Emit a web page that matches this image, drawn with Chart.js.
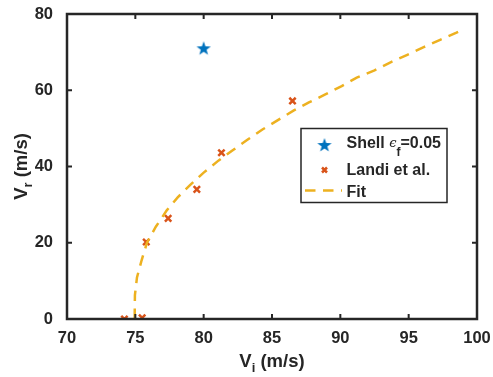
<!DOCTYPE html>
<html>
<head>
<meta charset="utf-8">
<script src="https://cdn.jsdelivr.net/npm/chart.js@4/dist/chart.umd.min.js"></script>
<style>
  body { margin: 0; background: #fff; }
  canvas { display: block; }
</style>
</head>
<body>
<canvas id="chart" width="493" height="377"></canvas>
<script>
// --- dados ---
const shellX = [80];
const shellY = [71];

const landiX = [74.2, 75.5, 75.8, 77.4, 79.5, 81.3, 86.5];
const landiY = [0, 0.3, 20.2, 26.4, 34.0, 43.6, 57.2];

const fitX = [74.95, 74.97, 75.12, 75.46, 75.85, 76.5, 77.3, 78.1, 79.0, 80.0, 81.1, 82.1, 83.2, 84.3, 85.4, 86.6, 87.7, 88.9, 90.1, 91.2, 92.5, 93.6, 94.9, 96.1, 97.3, 98.5, 98.85];
const fitY = [0, 6.3, 10.9, 15.4, 20.0, 24.2, 28.5, 31.9, 35.1, 38.4, 41.6, 44.2, 47.0, 49.7, 52.1, 54.7, 56.8, 58.9, 61.1, 63.3, 65.2, 67.2, 69.3, 71.3, 73.2, 75.1, 75.7];

const xTicks = [70, 75, 80, 85, 90, 95, 100];
const yTicks = [0, 20, 40, 60, 80];

const FONT = '"Liberation Sans", Arial, sans-serif';
const INK = '#262626';
const BLUE = '#0072BD';
const ORANGE = '#D95319';
const YELLOW = '#EDB120';

function toPoints(xs, ys) {
  return xs.map((x, i) => ({ x: x, y: ys[i] }));
}

// estrela cheia (pentagrama) como no MATLAB
function makeStar(size, color) {
  const c = document.createElement('canvas');
  c.width = size; c.height = size;
  const g = c.getContext('2d');
  const R = size / 2 - 0.5, r = R * 0.4, cx = size / 2, cy = size / 2 + 0.5;
  g.beginPath();
  for (let i = 0; i < 10; i++) {
    const rad = i % 2 === 0 ? R : r;
    const a = -Math.PI / 2 + i * Math.PI / 5;
    const px = cx + rad * Math.cos(a), py = cy + rad * Math.sin(a);
    if (i === 0) g.moveTo(px, py); else g.lineTo(px, py);
  }
  g.closePath();
  g.fillStyle = color;
  g.fill();
  return c;
}
const starImg = makeStar(16, BLUE);

// caixa, ticks internos, títulos e legenda
const matlabAxes = {
  id: 'matlabAxes',
  afterDraw(chart) {
    const ctx = chart.ctx;
    const xs = chart.scales.x, ys = chart.scales.y;
    // caixa pelos limites das escalas
    const a = {
      left: xs.getPixelForValue(xTicks[0]),
      right: xs.getPixelForValue(xTicks[xTicks.length - 1]),
      top: ys.getPixelForValue(yTicks[yTicks.length - 1]),
      bottom: ys.getPixelForValue(yTicks[0])
    };
    ctx.save();
    ctx.strokeStyle = INK;
    ctx.lineWidth = 2.5;
    ctx.strokeRect(a.left, a.top, a.right - a.left, a.bottom - a.top);

    ctx.lineWidth = 2;
    const tl = 5;
    ctx.beginPath();
    xTicks.forEach(v => {
      const px = xs.getPixelForValue(v);
      ctx.moveTo(px, a.bottom); ctx.lineTo(px, a.bottom - tl);
      ctx.moveTo(px, a.top); ctx.lineTo(px, a.top + tl);
    });
    yTicks.forEach(v => {
      const py = ys.getPixelForValue(v);
      ctx.moveTo(a.left, py); ctx.lineTo(a.left + tl, py);
      ctx.moveTo(a.right, py); ctx.lineTo(a.right - tl, py);
    });
    ctx.stroke();

    // título do eixo x: V_i (m/s)
    ctx.fillStyle = INK;
    ctx.textBaseline = 'alphabetic';
    const big = 'bold 18.5px ' + FONT, small = 'bold 13px ' + FONT;
    ctx.font = big; const wV = ctx.measureText('V').width;
    ctx.font = small; const wi = ctx.measureText('i').width;
    ctx.font = big; const wU = ctx.measureText(' (m/s)').width;
    let x0 = (a.left + a.right) / 2 - (wV + wi + wU) / 2;
    const by = 366.5;
    ctx.textAlign = 'left';
    ctx.font = big; ctx.fillText('V', x0, by);
    ctx.font = small; ctx.fillText('i', x0 + wV, by + 5);
    ctx.font = big; ctx.fillText(' (m/s)', x0 + wV + wi, by);

    // título do eixo y: V_r (m/s)
    ctx.save();
    ctx.translate(26.5, (a.top + a.bottom) / 2);
    ctx.rotate(-Math.PI / 2);
    ctx.font = big; const wV2 = ctx.measureText('V').width;
    ctx.font = small; const wr = ctx.measureText('r').width;
    ctx.font = big; const wU2 = ctx.measureText(' (m/s)').width;
    let y0 = -(wV2 + wr + wU2) / 2;
    ctx.font = big; ctx.fillText('V', y0, 0);
    ctx.font = small; ctx.fillText('r', y0 + wV2, 5);
    ctx.font = big; ctx.fillText(' (m/s)', y0 + wV2 + wr, 0);
    ctx.restore();

    // legenda
    const L = 301, T = 128.5, W = 146, H = 74;
    ctx.fillStyle = '#fff';
    ctx.fillRect(L, T, W, H);
    ctx.strokeStyle = INK;
    ctx.lineWidth = 1.5;
    ctx.strokeRect(L, T, W, H);

    ctx.drawImage(starImg, 324.5 - 8, 145 - 8);

    ctx.strokeStyle = ORANGE;
    ctx.lineWidth = 2.5;
    ctx.beginPath();
    ctx.moveTo(322, 167.5); ctx.lineTo(327, 172.5);
    ctx.moveTo(327, 167.5); ctx.lineTo(322, 172.5);
    ctx.stroke();

    ctx.strokeStyle = YELLOW;
    ctx.lineWidth = 2.5;
    ctx.setLineDash([10.5, 7.5]);
    ctx.beginPath();
    ctx.moveTo(305, 190.5); ctx.lineTo(342, 190.5);
    ctx.stroke();
    ctx.setLineDash([]);

    ctx.fillStyle = INK;
    const lf = 'bold 16px ' + FONT;
    const tx = 346.5;
    ctx.font = lf; ctx.fillText('Shell ', tx, 148);
    let cx = tx + ctx.measureText('Shell ').width;
    ctx.font = 'italic 13px "DejaVu Serif", serif';
    ctx.fillText('\u03F5', cx, 147);
    cx += ctx.measureText('\u03F5').width;
    ctx.font = 'bold 12px ' + FONT;
    ctx.fillText('f', cx, 155.5);
    cx += ctx.measureText('f').width;
    ctx.font = lf; ctx.fillText('=0.05', cx, 148);
    ctx.fillText('Landi et al.', tx, 175);
    ctx.fillText('Fit', tx, 197);
    ctx.restore();
  }
};

const tickFont = { family: FONT, size: 16.5, weight: 'bold' };

new Chart(document.getElementById('chart'), {
  type: 'scatter',
  data: {
    datasets: [
      {
        label: 'Fit',
        data: toPoints(fitX, fitY),
        showLine: true,
        pointRadius: 0,
        borderColor: YELLOW,
        borderWidth: 2.5,
        borderDash: [10.5, 7.5],
        fill: false,
        tension: 0,
        order: 0
      },
      {
        label: 'Landi et al.',
        data: toPoints(landiX, landiY),
        pointStyle: 'crossRot',
        pointRadius: 4.5,
        borderColor: ORANGE,
        pointBorderWidth: 2.5,
        order: 1
      },
      {
        label: 'Shell',
        data: toPoints(shellX, shellY),
        pointStyle: starImg,
        order: 2
      }
    ]
  },
  options: {
    responsive: false,
    animation: false,
    devicePixelRatio: 1,
    layout: { padding: { top: 14, right: 16, left: 0, bottom: 0 } },
    plugins: { legend: { display: false }, tooltip: { enabled: false } },
    scales: {
      x: {
        type: 'linear', min: 70, max: 100,
        afterBuildTicks: s => { s.ticks = xTicks.map(v => ({ value: v })); },
        ticks: { padding: 2, font: tickFont, color: INK, maxRotation: 0 },
        grid: { display: false },
        border: { display: false },
        afterFit: s => { s.height = 58; s.paddingLeft = 0; s.paddingRight = 0; }
      },
      y: {
        min: 0, max: 80,
        afterBuildTicks: s => { s.ticks = yTicks.map(v => ({ value: v })); },
        ticks: { padding: 6, font: tickFont, color: INK },
        grid: { display: false },
        border: { display: false },
        afterFit: s => { s.width = 67; s.paddingTop = 0; s.paddingBottom = 0; }
      }
    }
  },
  plugins: [matlabAxes]
});
</script>
</body>
</html>
